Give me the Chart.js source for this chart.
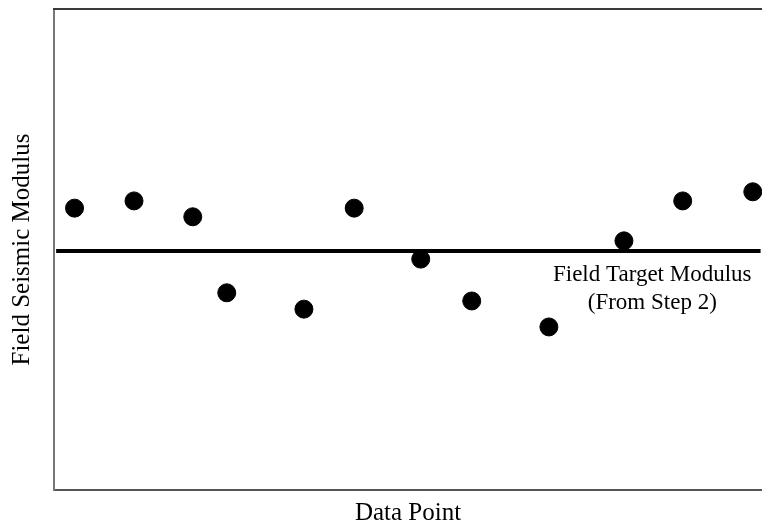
<!DOCTYPE html>
<html>
<head>
<meta charset="utf-8">
<script src="https://cdn.jsdelivr.net/npm/chart.js@4/dist/chart.umd.min.js"></script>
<style>
html,body{margin:0;padding:0;background:#fff;}
#wrap{width:762px;height:528px;position:relative;}
</style>
</head>
<body>
<div id="wrap"><canvas id="c" width="762" height="528"></canvas></div>
<script>
const pointX = [2.9, 11.3, 19.6, 24.4, 35.3, 42.4, 51.8, 59.0, 69.9, 80.5, 88.8, 98.7];
const pointY = [58.6, 60.1, 56.8, 41.0, 37.6, 58.6, 48.0, 39.3, 33.9, 51.8, 60.1, 62.0];
const targetValue = 49.7;
const targetLabelLines = ["Field Target Modulus", "(From Step 2)"];
const targetLabelX = 84.5;
const xTitle = "Data Point";
const yTitle = "Field Seismic Modulus";

const FONT = "'Liberation Serif', 'Times New Roman', serif";

const topBorder = {
  id: 'topBorder',
  afterDraw(chart) {
    const {ctx, chartArea} = chart;
    ctx.save();
    ctx.strokeStyle = '#3a3a3a';
    ctx.lineWidth = 2;
    ctx.beginPath();
    ctx.moveTo(chartArea.left - 1, chartArea.top);
    ctx.lineTo(chartArea.right, chartArea.top);
    ctx.stroke();
    // annotation text
    const xs = chart.scales.x, ys = chart.scales.y;
    const cx = xs.getPixelForValue(targetLabelX);
    const y0 = ys.getPixelForValue(targetValue);
    ctx.fillStyle = '#000';
    ctx.font = "23px " + FONT;
    ctx.textAlign = 'center';
    ctx.textBaseline = 'middle';
    targetLabelLines.forEach((t, i) => ctx.fillText(t, cx, y0 + 24 + i * 28));
    ctx.restore();
  }
};

new Chart(document.getElementById('c'), {
  type: 'scatter',
  data: {
    datasets: [
      {
        label: 'target',
        type: 'line',
        data: [{x: 0.3, y: targetValue}, {x: 99.8, y: targetValue}],
        borderColor: '#000',
        borderWidth: 4,
        pointRadius: 0,
        fill: false
      },
      {
        label: 'points',
        data: pointX.map((x, i) => ({x, y: pointY[i]})),
        backgroundColor: '#000',
        borderColor: '#000',
        pointRadius: 9,
        pointHoverRadius: 9
      }
    ]
  },
  options: {
    responsive: false,
    animation: false,
    events: [],
    layout: {autoPadding: false, padding: {left: 7, right: 0, top: 9, bottom: 2}},
    plugins: {legend: {display: false}, tooltip: {enabled: false}},
    scales: {
      x: {
        type: 'linear', min: 0, max: 100,
        grid: {display: false, drawTicks: false},
        border: {display: true, color: '#555', width: 2},
        ticks: {display: false},
        title: {display: true, text: xTitle, color: '#000', font: {family: FONT, size: 25, lineHeight: 1.0}, padding: {top: 11, bottom: 0}}
      },
      y: {
        type: 'linear', min: 0, max: 100,
        grid: {display: false, drawTicks: false},
        border: {display: true, color: '#777', width: 2},
        ticks: {display: false},
        title: {display: true, text: yTitle, color: '#000', font: {family: FONT, size: 25, lineHeight: 1.0}, padding: {top: 3, bottom: 19}}
      }
    }
  },
  plugins: [topBorder]
});
</script>
</body>
</html>
